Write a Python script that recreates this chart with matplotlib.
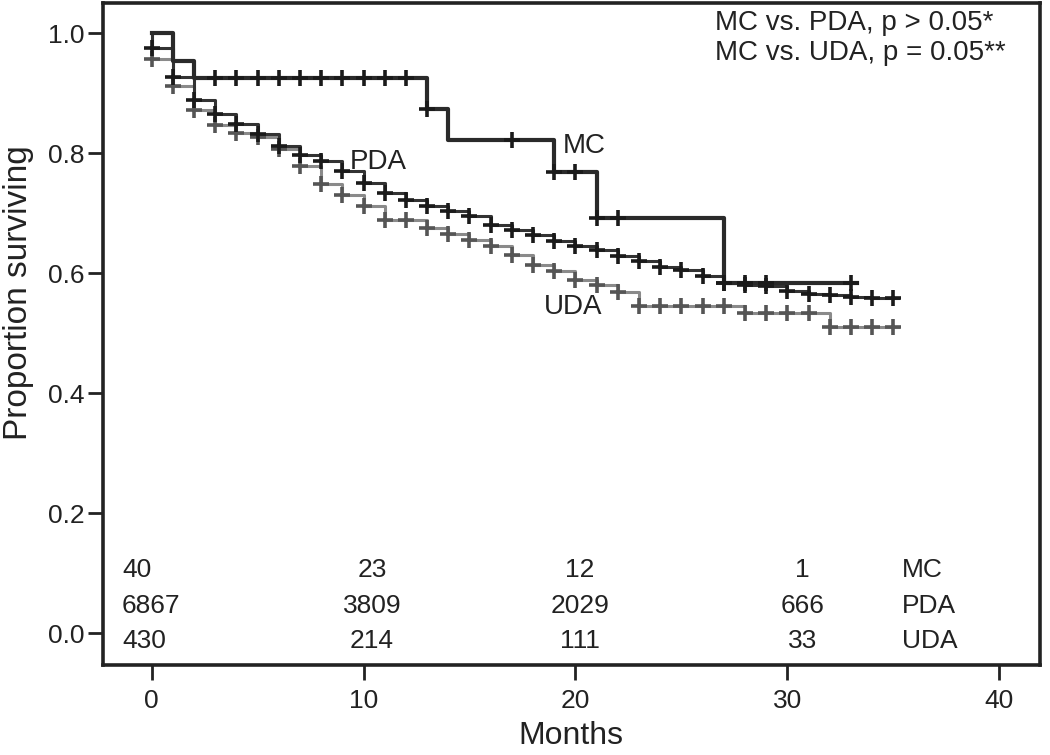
import matplotlib
matplotlib.use("Agg")
import matplotlib.pyplot as plt
import numpy as np

plt.rcParams['font.family'] = ['Liberation Sans', 'DejaVu Sans']

# Kaplan-Meier estimates (months, proportion surviving)
months = np.arange(0, 36)
pda_surv = [0.975, 0.926, 0.888, 0.865, 0.849, 0.832, 0.812, 0.796, 0.787, 0.770,
            0.750, 0.733, 0.722, 0.712, 0.703, 0.695, 0.680, 0.672, 0.663, 0.653,
            0.645, 0.638, 0.629, 0.620, 0.611, 0.605, 0.595, 0.583, 0.580, 0.578,
            0.571, 0.566, 0.563, 0.560, 0.558, 0.558]
uda_surv = [0.957, 0.911, 0.871, 0.846, 0.834, 0.826, 0.806, 0.778, 0.748, 0.730,
            0.712, 0.688, 0.688, 0.675, 0.665, 0.655, 0.645, 0.630, 0.613, 0.603,
            0.588, 0.580, 0.568, 0.546, 0.546, 0.546, 0.546, 0.546, 0.533, 0.533,
            0.533, 0.533, 0.511, 0.511, 0.511, 0.511]
pda_end = 35.2
uda_end = 35.2

mc_times = [0, 1, 2, 13, 14, 19, 21, 27, 33.3]
mc_surv = [1.0, 0.953, 0.925, 0.873, 0.822, 0.769, 0.692, 0.583, 0.583]
mc_censored = [3, 4, 5, 6, 7, 8, 9, 10, 11, 12, 13, 17, 19, 20, 21, 22, 27, 28, 29, 33]

# numbers at risk
risk_groups = ['MC', 'PDA', 'UDA']
risk_mc = [40, 23, 12, 1]
risk_pda = [6867, 3809, 2029, 666]
risk_uda = [430, 214, 111, 33]

p_texts = ['MC vs. PDA, p > 0.05*', 'MC vs. UDA, p = 0.05**']


def step_value(times, values, t):
    idx = np.searchsorted(times, t, side='right') - 1
    return np.asarray(values)[idx]


fig = plt.figure(figsize=(10.5, 7.55), dpi=100)
ax = fig.add_axes([0.098, 0.119, 0.892, 0.877])

mk = dict(ls='none', marker='+', ms=11, mew=2.6)

# UDA (grey)
ut = np.concatenate([[0], months, [uda_end]])
uv = np.concatenate([[1.0], uda_surv, [uda_surv[-1]]])
ax.step(ut, uv, where='post', color='#8a8a8a', lw=2.2, zorder=2)
ax.plot(months, uda_surv, color='#555555', zorder=3, **mk)

# PDA (black)
pt = np.concatenate([[0], months, [pda_end]])
pv = np.concatenate([[1.0], pda_surv, [pda_surv[-1]]])
ax.step(pt, pv, where='post', color='#333333', lw=2.2, zorder=4)
ax.plot(months, pda_surv, color='#1a1a1a', zorder=5, **mk)

# MC (thick black)
ax.step(mc_times, mc_surv, where='post', color='#2a2a2a', lw=3.0, zorder=6)
ax.plot(mc_censored, step_value(mc_times, mc_surv, mc_censored),
        color='#1a1a1a', zorder=7, **mk)

# curve labels
ax.text(9.35, 0.786, 'PDA', fontsize=20, va='center', color='#222222', zorder=8)
ax.text(19.4, 0.812, 'MC', fontsize=20, va='center', color='#222222', zorder=8)
ax.text(18.5, 0.543, 'UDA', fontsize=20, va='center', color='#222222', zorder=8)

# p-values
ax.text(26.6, 1.016, p_texts[0], fontsize=20, va='center', color='#222222')
ax.text(26.6, 0.966, p_texts[1], fontsize=20, va='center', color='#222222')

# number-at-risk table inside the axes
row_y = [0.105, 0.045, -0.013]
col_x = [10.4, 20.2, 30.7]
for rows, y, name in zip([risk_mc, risk_pda, risk_uda], row_y, risk_groups):
    ax.text(-1.4, y, str(rows[0]), fontsize=19, va='center', ha='left', color='#222222')
    for cx, val in zip(col_x, rows[1:]):
        ax.text(cx, y, str(val), fontsize=19, va='center', ha='center', color='#222222')
    ax.text(35.4, y, name, fontsize=19, va='center', ha='left', color='#222222')

ax.set_xlim(-2.3, 41.9)
ax.set_ylim(-0.053, 1.05)
ax.set_xticks([0, 10, 20, 30, 40])
ax.set_yticks([0.0, 0.2, 0.4, 0.6, 0.8, 1.0])
ax.set_yticklabels(['0.0', '0.2', '0.4', '0.6', '0.8', '1.0'])
ax.tick_params(axis='both', direction='out', length=11, width=2, color='#222222',
               labelsize=19, labelcolor='#222222')
ax.tick_params(axis='y', pad=2)
ax.tick_params(axis='x', pad=6)

for sp in ax.spines.values():
    sp.set_linewidth(2.6)
    sp.set_color('#222222')

ax.set_xlabel('Months', fontsize=23, color='#222222')
ax.xaxis.set_label_coords(0.5, -0.084)
ax.xaxis.label.set_va('top')
ax.set_ylabel('Proportion surviving', fontsize=24, color='#222222')
ax.yaxis.set_label_coords(-0.074, 0.563)

fig.savefig('out.png', dpi=100)
